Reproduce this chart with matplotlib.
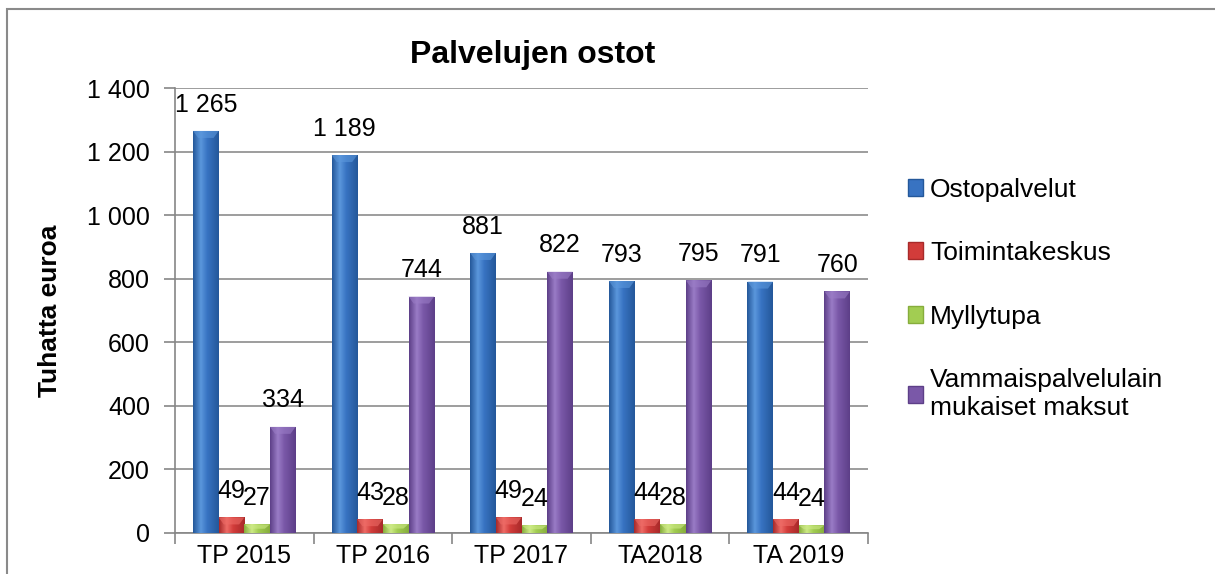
import numpy as np
import matplotlib
matplotlib.use("Agg")
import matplotlib.pyplot as plt
from matplotlib.colors import LinearSegmentedColormap
from matplotlib.patches import Patch, Rectangle, Polygon
from matplotlib.ticker import FuncFormatter, FixedLocator

plt.rcParams['font.family'] = ['Liberation Sans', 'DejaVu Sans']

# Data
years = ["TP 2015", "TP 2016", "TP 2017", "TA2018", "TA 2019"]
series_names = ["Ostopalvelut", "Toimintakeskus", "Myllytupa",
                "Vammaispalvelulain\nmukaiset maksut"]
ostopalvelut = [1265, 1189, 881, 793, 791]
toimintakeskus = [49, 43, 49, 44, 44]
myllytupa = [27, 28, 24, 28, 24]
vammaispalvelut = [334, 744, 822, 795, 760]

values = [ostopalvelut, toimintakeskus, myllytupa, vammaispalvelut]
# (dark edge, light highlight, base)
colors = [("#24589a", "#5b97dc", "#3873c2"),
          ("#a82a2a", "#ee6b66", "#d23c3a"),
          ("#86ad3c", "#cdea86", "#a2cd52"),
          ("#5d3f88", "#9a7cc6", "#7a58a8")]

def fmt(v, pos=None):
    return f"{int(v):,}".replace(",", " ")

fig = plt.figure(figsize=(12.15, 5.74), dpi=100)
ax = fig.add_axes([175 / 1215, 41 / 574, 693 / 1215, 445 / 574])

x = np.arange(len(years))
width = 0.185
grad = np.linspace(0, 1, 64).reshape(1, -1)

for i, (vals, (dark, light, base)) in enumerate(zip(values, colors)):
    offs = (i - 1.5) * width
    bars = ax.bar(x + offs, vals, width, color=base, edgecolor="none", zorder=2)
    cmap = LinearSegmentedColormap.from_list(
        f"c{i}", [(0, dark), (0.3, light), (0.55, base), (1, dark)])
    for b, v in zip(bars, vals):
        x0 = b.get_x()
        im = ax.imshow(grad, extent=[x0, x0 + width, 0, v], aspect="auto",
                       cmap=cmap, zorder=3, interpolation="bilinear")
        im.set_clip_path(b)
        # lighter bevel on top of the bar
        bh = min(22, v * 0.5)
        ax.add_patch(Polygon([(x0, v), (x0 + width, v),
                              (x0 + width * 0.8, v - bh), (x0 + width * 0.2, v - bh)],
                             closed=True, facecolor=light, alpha=0.6,
                             edgecolor="none", zorder=4))
        ax.annotate(fmt(v), (x0 + width / 2, v), xytext=(0, 19),
                    textcoords="offset points", ha="center", va="center",
                    fontsize=18, zorder=5)

ax.set_xlim(-0.5, len(years) - 0.5)
ax.set_ylim(0, 1400)
ax.yaxis.set_major_locator(FixedLocator(np.arange(0, 1401, 200)))
ax.yaxis.set_major_formatter(FuncFormatter(fmt))
ax.grid(axis="y", color="#8c8c8c", linewidth=1.2, zorder=0)
ax.set_axisbelow(True)

ax.set_xticks(x)
ax.set_xticklabels(years)
ax.set_xticks(np.arange(-0.5, len(years)), minor=True)
ax.tick_params(axis="x", which="major", length=0, labelsize=18, pad=8)
ax.tick_params(axis="x", which="minor", length=8, color="#868686", width=1.2)
ax.tick_params(axis="y", length=8, color="#868686", width=1.2, labelsize=18, pad=10)

for s in ["top", "right"]:
    ax.spines[s].set_visible(False)
for s in ["left", "bottom"]:
    ax.spines[s].set_color("#868686")
    ax.spines[s].set_linewidth(1.2)

ax.set_ylabel("Tuhatta euroa", fontsize=19, fontweight="bold")
ax.yaxis.set_label_coords(-0.163, 0.5)

fig.text(533 / 1215, 1 - 55 / 574, "Palvelujen ostot", fontsize=23,
         fontweight="bold", ha="center", va="center")

handles = [Patch(facecolor=c[2], edgecolor=c[0]) for c in colors]
fig.legend(handles, series_names, loc="upper left",
           bbox_to_anchor=(897 / 1215, 1 - 167 / 574), frameon=False,
           fontsize=19, labelspacing=1.5, handlelength=0.6, handleheight=0.6,
           handletextpad=0.25, borderaxespad=0)

# outer chart border
fig.patches.append(Rectangle((6.5 / 1215, -0.1), 1.2, 1.1 - 9 / 574,
                             transform=fig.transFigure, fill=False,
                             edgecolor="#8a8a8a", linewidth=1.5))

fig.savefig("out.png", dpi=100)
